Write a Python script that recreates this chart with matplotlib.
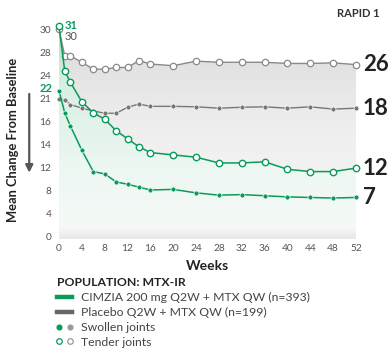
import numpy as np
import matplotlib
matplotlib.use("Agg")
import matplotlib.pyplot as plt
from matplotlib.colors import to_rgb
from matplotlib.lines import Line2D
from matplotlib.legend_handler import HandlerTuple

plt.rcParams["font.family"] = ["Lato", "DejaVu Sans"]

# data
WEEKS = [0, 1, 2, 4, 6, 8, 10, 12, 14, 16, 20, 24, 28, 32, 36, 40, 44, 48, 52]
CIM_TENDER = [30.3, 24.8, 23.1, 20.3, 17.9, 16.5, 15.2, 14.5, 13.8, 13.3,
              13.1, 12.9, 12.4, 12.4, 12.5, 11.7, 11.3, 11.3, 11.9]
CIM_SWOLLEN = [22.0, 17.9, 15.6, 13.5, 11.3, 10.9, 9.5, 9.1, 8.6, 8.1,
               8.2, 7.6, 7.2, 7.3, 7.1, 6.9, 6.8, 6.7, 6.8]
PBO_TENDER = [30.0, 27.4, 27.4, 26.3, 25.1, 25.1, 25.4, 25.4, 26.6, 26.0,
              25.7, 26.5, 26.3, 26.3, 26.3, 26.1, 26.1, 26.2, 25.9]
PBO_SWOLLEN = [21.0, 20.7, 19.7, 18.9, 18.3, 17.8, 17.8, 19.1, 19.8, 19.3,
               19.3, 19.2, 18.9, 19.1, 19.2, 18.9, 19.2, 18.7, 18.9]

Y_TICKS = [0, 4, 8, 12, 14, 16, 21, 24, 28, 30]
X_TICKS = list(range(0, 53, 4))
START_LABELS = ["31", "30", "22"]
END_LABELS = ["26", "18", "12", "7"]
LEGEND_LABELS = ["CIMZIA 200 mg Q2W + MTX QW (n=393)",
                 "Placebo Q2W + MTX QW (n=199)",
                 "Swollen joints", "Tender joints"]

GREEN = "#0b9a5b"
GRAY = "#777777"
GRAY_LT = "#8a8a8a"
IDX = np.arange(len(Y_TICKS), dtype=float)


def _fwd(v):
    v = np.asarray(v, dtype=float)
    i = np.interp(v, Y_TICKS, IDX)
    i = np.where(v < Y_TICKS[0], (v - Y_TICKS[0]) / 4.0, i)
    i = np.where(v > Y_TICKS[-1], IDX[-1] + (v - Y_TICKS[-1]) / 2.0, i)
    return i


def _inv(i):
    i = np.asarray(i, dtype=float)
    v = np.interp(i, IDX, Y_TICKS)
    v = np.where(i < 0, Y_TICKS[0] + i * 4.0, v)
    v = np.where(i > IDX[-1], Y_TICKS[-1] + (i - IDX[-1]) * 2.0, v)
    return v


def _gradient(ax, stops, clip_path, z):
    """vertical RGBA gradient in axes coords, clipped to a path."""
    n = 256
    fr = np.linspace(0, 1, n)
    img = np.zeros((n, 1, 4))
    pos = [s[0] for s in stops]
    for c in range(3):
        img[:, 0, c] = np.interp(fr, pos, [to_rgb(s[1])[c] for s in stops])
    img[:, 0, 3] = np.interp(fr, pos, [s[2] for s in stops])
    im = ax.imshow(img, extent=(0, 1, 0, 1), transform=ax.transAxes,
                   origin="lower", aspect="auto", zorder=z, interpolation="bilinear")
    im.set_clip_path(clip_path, transform=ax.transData)
    return im


fig = plt.figure(figsize=(3.9, 3.56), dpi=100)
ax = fig.add_axes([0.1367, 0.329, 0.7907, 0.614])
ax.set_yscale("function", functions=(_fwd, _inv))
ax.set_xlim(-1, 53)
ax.set_ylim(-0.4, 30.8)
y_bot = -0.4

# shaded areas
gray_poly = ax.fill_between(WEEKS, PBO_TENDER, y_bot, facecolor="none", edgecolor="none")
green_poly = ax.fill_between(WEEKS, CIM_TENDER, y_bot, facecolor="none", edgecolor="none")
base_poly = ax.fill_between([0, 52], [2.5, 2.5], y_bot, facecolor="none", edgecolor="none")
_gradient(ax, [(0.0, "#f8f8f8", 1), (0.5, "#efefef", 1), (1.0, "#d9d9d9", 1)],
          gray_poly.get_paths()[0], 0.5)
_gradient(ax, [(0.0, "#ffffff", 0.0), (0.06, "#f5fbf8", 0.9), (0.3, "#eef8f3", 1),
               (0.7, "#d8efe3", 1), (1.0, "#b8ddc9", 1)],
          green_poly.get_paths()[0], 0.6)
_gradient(ax, [(0.0, "#e8e8e8", 1), (0.03, "#eeeeee", 0.7), (0.07, "#f6f6f6", 0.0),
               (1.0, "#ffffff", 0.0)],
          base_poly.get_paths()[0], 0.7)

# lines
ax.plot(WEEKS, PBO_TENDER, color=GRAY_LT, lw=1.0, marker="o", ms=4.6,
        mfc="white", mec=GRAY_LT, mew=0.9, zorder=3)
ax.plot(WEEKS, PBO_SWOLLEN, color=GRAY, lw=1.0, marker="o", ms=3.6,
        mfc=GRAY, mec="white", mew=0.5, zorder=3)
ax.plot(WEEKS, CIM_TENDER, color=GREEN, lw=1.1, marker="o", ms=4.6,
        mfc="white", mec=GREEN, mew=1.0, zorder=4)
ax.plot(WEEKS, CIM_SWOLLEN, color=GREEN, lw=1.1, marker="o", ms=3.6,
        mfc=GREEN, mec="white", mew=0.5, zorder=4)

# start / end annotations
ax.annotate(START_LABELS[0], (WEEKS[0], CIM_TENDER[0]), xytext=(4, 0.5),
            textcoords="offset points", ha="left", va="center",
            color=GREEN, fontsize=8, fontweight="bold")
ax.annotate(START_LABELS[1], (WEEKS[0], PBO_TENDER[0]), xytext=(4, -5),
            textcoords="offset points", ha="left", va="center",
            color="#555555", fontsize=8)
ax.annotate(START_LABELS[2], (WEEKS[0], CIM_SWOLLEN[0]), xytext=(-4.5, 2),
            textcoords="offset points", ha="right", va="center",
            color=GREEN, fontsize=8, fontweight="bold", annotation_clip=False)
for txt, series in zip(END_LABELS, [PBO_TENDER, PBO_SWOLLEN, CIM_TENDER, CIM_SWOLLEN]):
    ax.annotate(txt, (WEEKS[-1], series[-1]), xytext=(5, 0),
                textcoords="offset points", ha="left", va="center",
                color="#222222", fontsize=16, fontweight="bold",
                annotation_clip=False)

# axes styling
ax.set_yticks(Y_TICKS)
ax.set_yticklabels([str(t) for t in Y_TICKS])
ax.yaxis.set_minor_locator(matplotlib.ticker.NullLocator())
ax.set_xticks(X_TICKS)
ax.tick_params(length=0, labelsize=7.3, labelcolor="#555555")
ax.tick_params(axis="y", pad=1.5)
ax.tick_params(axis="x", pad=4)
for s in ax.spines.values():
    s.set_visible(False)
ax.set_xlabel("Weeks", fontsize=10, fontweight="bold", color="#222222", labelpad=5)

fig.text(0.033, 0.607, "Mean Change From Baseline", rotation=90, ha="center",
         va="center", fontsize=9.3, fontweight="bold", color="#222222")
ax.annotate("", xy=(0.075, 0.515), xytext=(0.075, 0.736), xycoords="figure fraction",
            textcoords="figure fraction",
            arrowprops=dict(arrowstyle="-|>", color="#555555", lw=1.6,
                            mutation_scale=11, shrinkA=0, shrinkB=0))
fig.text(0.974, 0.961, "RAPID 1", ha="right", va="center", fontsize=8,
         fontweight="bold", color="#333333")

# legend
handles = [
    Line2D([], [], color=GREEN, lw=3.2),
    Line2D([], [], color="#666666", lw=3.2),
    (Line2D([], [], ls="", marker="o", ms=3.4, mfc=GREEN, mec=GREEN),
     Line2D([], [], ls="", marker="o", ms=3.4, mfc="#999999", mec="#999999")),
    (Line2D([], [], ls="", marker="o", ms=4, mfc="white", mec=GREEN, mew=0.9),
     Line2D([], [], ls="", marker="o", ms=4, mfc="white", mec="#999999", mew=0.9)),
]
leg = fig.legend(handles, LEGEND_LABELS, loc="upper left",
                 bbox_to_anchor=(0.146, 0.222), frameon=False,
                 title="POPULATION: MTX-IR", alignment="left",
                 title_fontproperties={"weight": "bold", "size": 8.8},
                 fontsize=8.8, handlelength=1.25, handletextpad=0.75,
                 labelspacing=0.32, borderpad=0, borderaxespad=0,
                 handler_map={tuple: HandlerTuple(ndivide=None, pad=0.5)})
leg.get_title().set_color("#222222")
for t in leg.get_texts():
    t.set_color("#444444")

fig.savefig("out.png", dpi=100)
